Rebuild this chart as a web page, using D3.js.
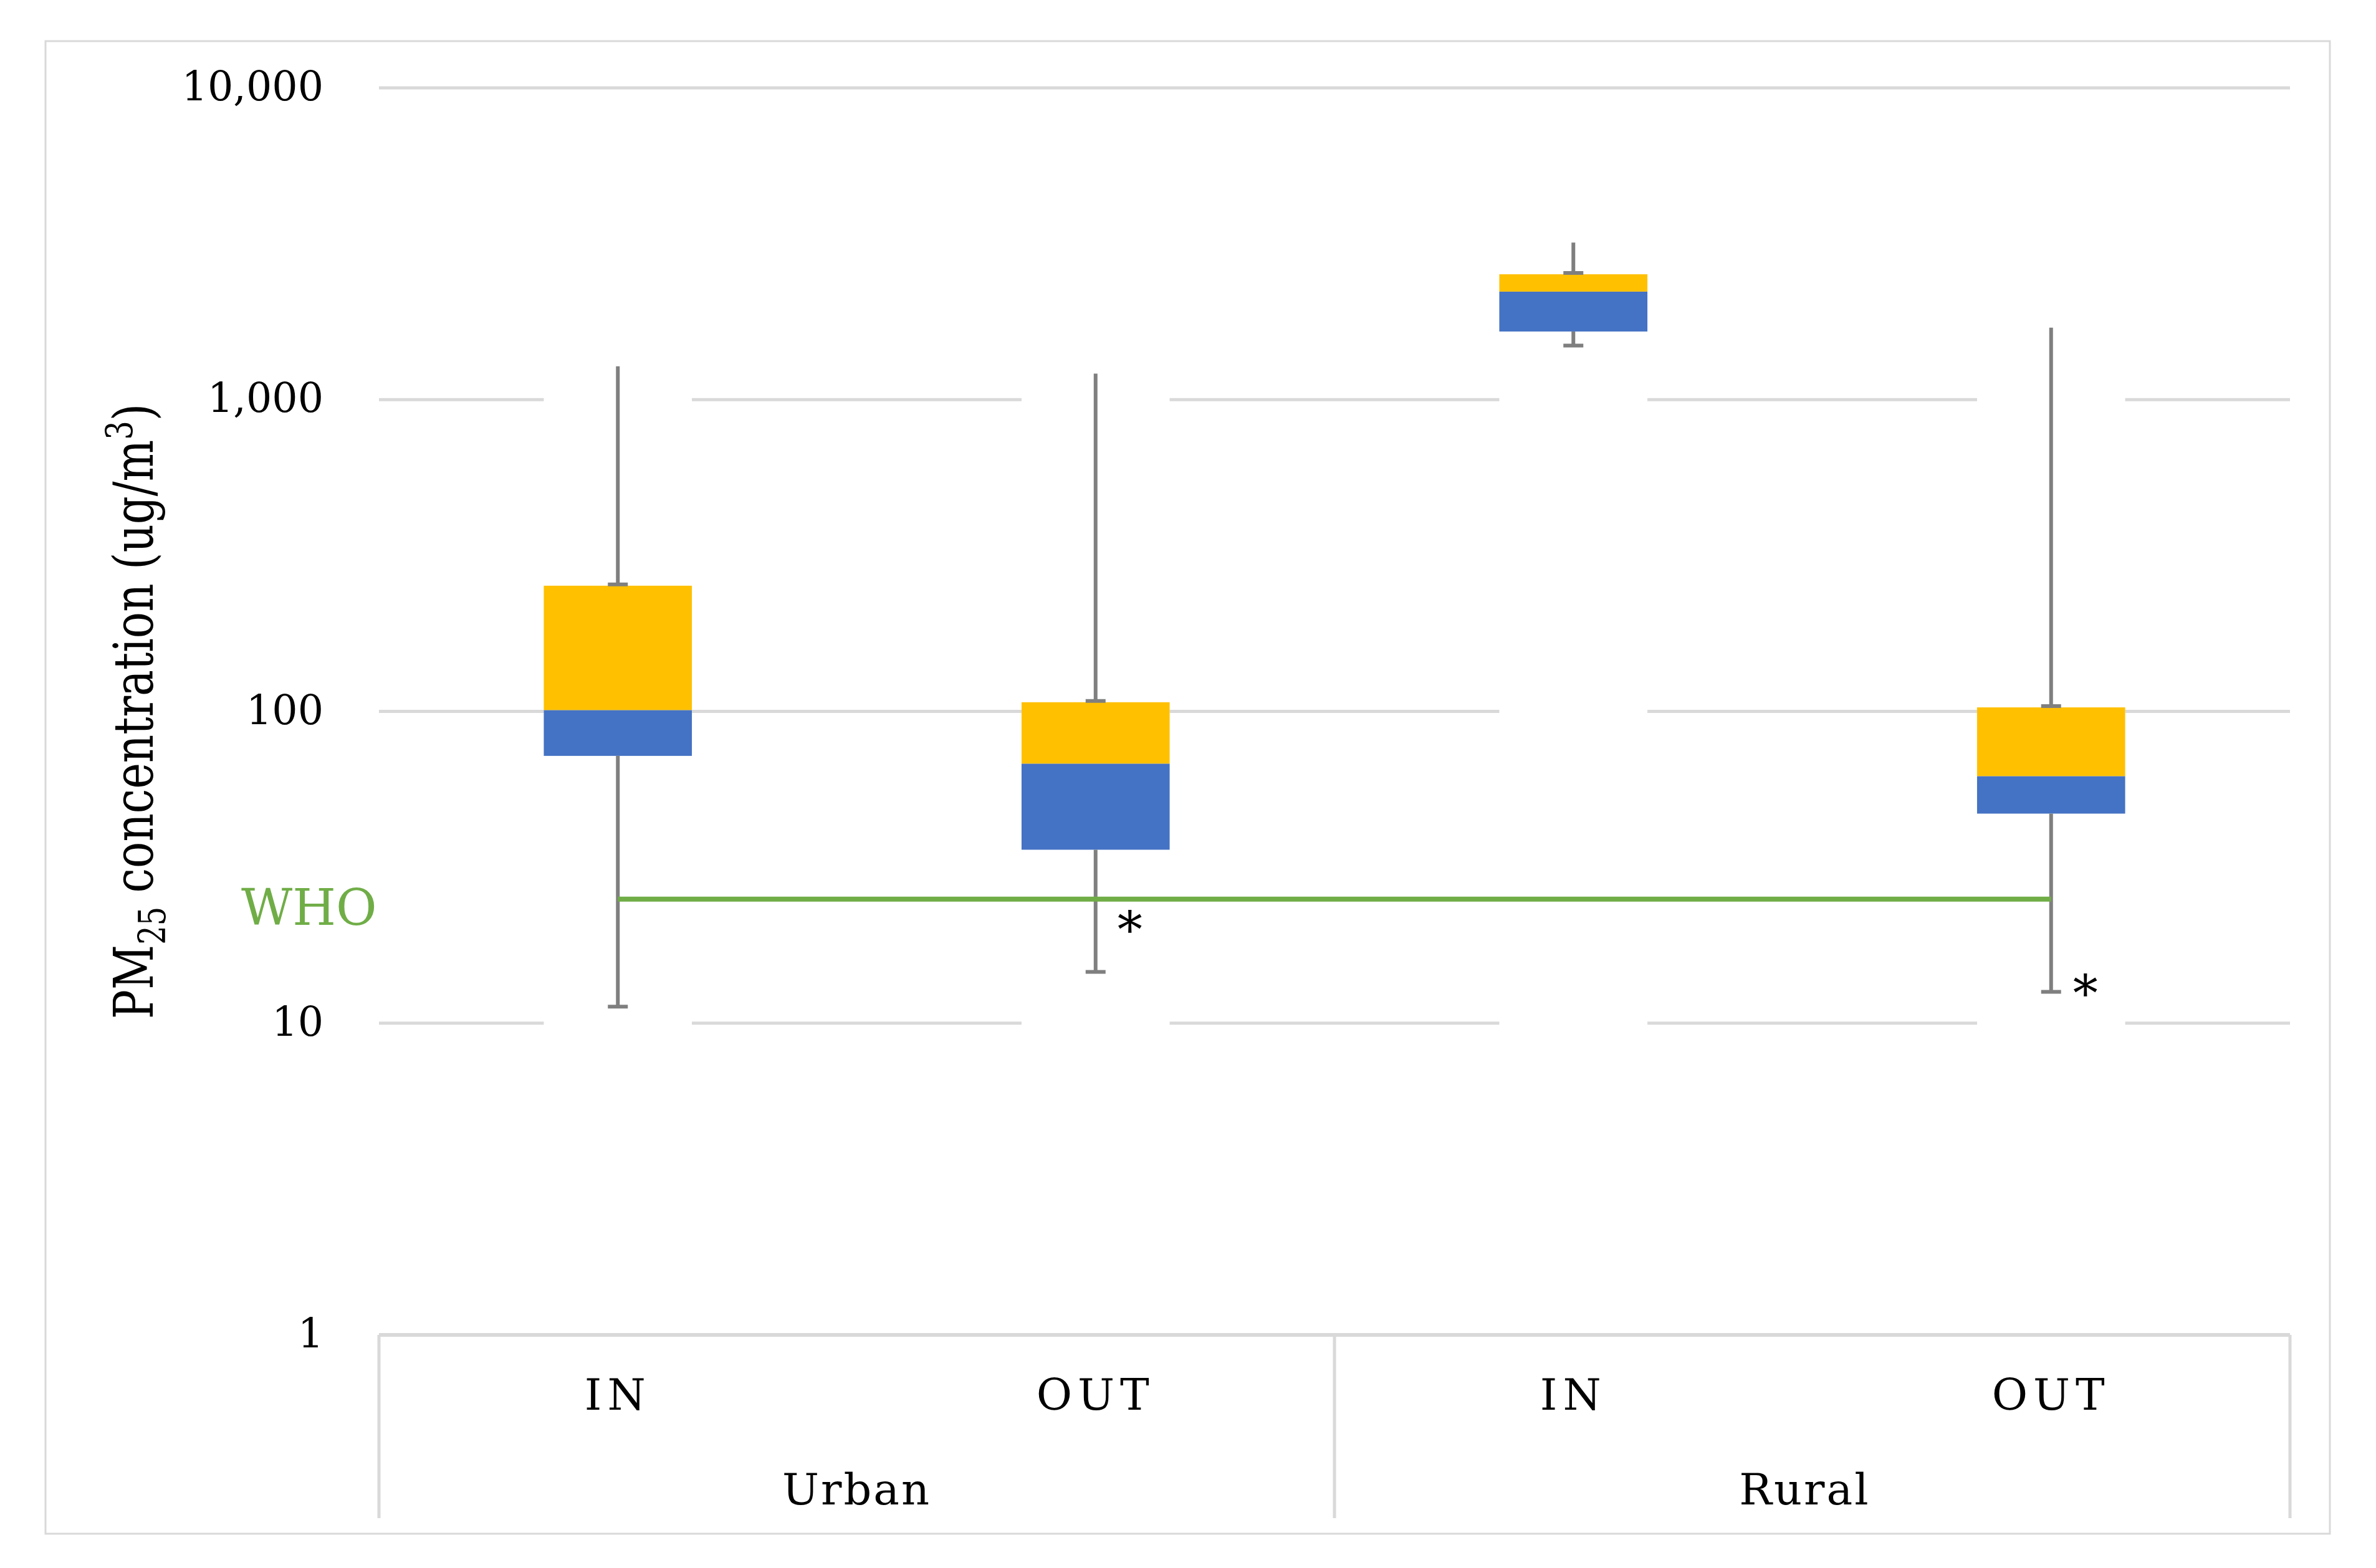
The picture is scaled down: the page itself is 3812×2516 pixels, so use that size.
<!DOCTYPE html>
<html>
<head>
<meta charset="utf-8">
<script src="https://cdn.jsdelivr.net/npm/d3@7"></script>
<style>
  html, body { margin: 0; padding: 0; background: #ffffff; }
  svg { display: block; }
</style>
</head>
<body>
<div id="chart"></div>
<script>
// ---- data ----
const categories = ["IN", "OUT", "IN", "OUT"];
const groups = ["Urban", "Rural"];
const groupOf = [0, 0, 1, 1];
const minValues = [11.3, 14.6, 1491, 12.6];
const q1Values = [72, 36, 1654, 47];
const medianValues = [101, 68, 2221, 62];
const q3Values = [253, 107, 2524, 103];
const maxValues = [1279, 1212, 3190, 1701];
const yTicks = [1, 10, 100, 1000, 10000];
const whoLimit = 25;
const whoLabel = "WHO";
const asteriskCategories = [1, 3];
const asteriskValues = [21.5, 13.5];

// ---- layout ----
const W = 3812, H = 2516;
const FONT = "'DejaVu Serif', 'Liberation Serif', serif";
const C = {
  grid: "#D9D9D9", border: "#D9D9D9", whisker: "#7F7F7F",
  q3: "#FFC000", q1: "#4472C4", who: "#70AD47", text: "#000000"
};

const svg = d3.select("#chart").append("svg")
  .attr("width", W).attr("height", H)
  .attr("viewBox", `0 0 ${W} ${H}`);

svg.append("rect").attr("width", W).attr("height", H).attr("fill", "#ffffff");

// outer chart-area border
svg.append("rect")
  .attr("x", 73).attr("y", 66).attr("width", 3665).attr("height", 2395)
  .attr("fill", "none").attr("stroke", C.border).attr("stroke-width", 3);

const plotLeft = 608, plotRight = 3674, plotTop = 141, plotBottom = 2142;

const y = d3.scaleLog().domain([1, 10000]).range([plotBottom, plotTop]);
const idx = d3.range(categories.length);
const x = d3.scaleBand().domain(idx).range([plotLeft, plotRight])
  .paddingInner(0.69).paddingOuter(0.345);
const bw = x.bandwidth();
const cx = i => x(i) + bw / 2;

// gridlines
svg.append("g").selectAll("line")
  .data(yTicks.filter(t => t > 1))
  .join("line")
  .attr("x1", plotLeft).attr("x2", plotRight)
  .attr("y1", d => y(d)).attr("y2", d => y(d))
  .attr("stroke", C.grid).attr("stroke-width", 5);

// white columns hiding gridlines (invisible base series)
svg.append("g").selectAll("rect")
  .data(idx)
  .join("rect")
  .attr("x", i => x(i)).attr("width", bw)
  .attr("y", i => y(maxValues[i]))
  .attr("height", i => y(1) - y(maxValues[i]))
  .attr("fill", "#ffffff");

// y axis labels
const yAxis = svg.append("g")
  .attr("transform", `translate(${plotLeft},0)`)
  .call(d3.axisLeft(y).tickValues(yTicks).tickFormat(d3.format(",")).tickSize(0).tickPadding(89));
yAxis.select(".domain").remove();
yAxis.selectAll("text")
  .attr("font-family", FONT).attr("font-size", 65).attr("fill", C.text)
  .attr("dy", "0.30em");

// category axis line
svg.append("line")
  .attr("x1", plotLeft).attr("x2", plotRight)
  .attr("y1", y(1)).attr("y2", y(1))
  .attr("stroke", C.grid).attr("stroke-width", 6);

// group separators
const sepBottom = 2436;
const groupBoundary = (x(1) + bw + x(2)) / 2;
svg.append("g").selectAll("line")
  .data([plotLeft, groupBoundary, plotRight])
  .join("line")
  .attr("x1", d => d).attr("x2", d => d)
  .attr("y1", y(1)).attr("y2", sepBottom)
  .attr("stroke", C.grid).attr("stroke-width", 5);

// category labels
const xAxis = svg.append("g")
  .attr("transform", `translate(0,${y(1)})`)
  .call(d3.axisBottom(x).tickFormat(i => categories[i]).tickSize(0).tickPadding(70));
xAxis.select(".domain").remove();
xAxis.selectAll("text")
  .attr("font-family", FONT).attr("font-size", 70).attr("fill", C.text)
  .attr("letter-spacing", 9);

// group labels
const groupCenters = groups.map((g, gi) => {
  const members = idx.filter(i => groupOf[i] === gi);
  return (x(members[0]) + x(members[members.length - 1]) + bw) / 2;
});
svg.append("g").selectAll("text")
  .data(groups)
  .join("text")
  .attr("x", (d, gi) => groupCenters[gi] - (gi === 1 ? 12 : 0))
  .attr("y", 2414)
  .attr("text-anchor", "middle")
  .attr("font-family", FONT).attr("font-size", 70).attr("fill", C.text)
  .attr("letter-spacing", 3)
  .text(d => d);

// boxes: lower part (Q1 -> median) blue, upper part (median -> Q3) yellow
svg.append("g").selectAll("rect")
  .data(idx)
  .join("rect")
  .attr("x", i => x(i)).attr("width", bw)
  .attr("y", i => y(medianValues[i]))
  .attr("height", i => y(q1Values[i]) - y(medianValues[i]))
  .attr("fill", C.q1);
svg.append("g").selectAll("rect")
  .data(idx)
  .join("rect")
  .attr("x", i => x(i)).attr("width", bw)
  .attr("y", i => y(q3Values[i]))
  .attr("height", i => y(medianValues[i]) - y(q3Values[i]))
  .attr("fill", C.q3);

// whiskers
const wg = svg.append("g").attr("stroke", C.whisker).attr("stroke-width", 6);
wg.selectAll("line.up").data(idx).join("line").attr("class", "up")
  .attr("x1", cx).attr("x2", cx)
  .attr("y1", i => y(q3Values[i])).attr("y2", i => y(maxValues[i]));
wg.selectAll("line.down").data(idx).join("line").attr("class", "down")
  .attr("x1", cx).attr("x2", cx)
  .attr("y1", i => y(q1Values[i])).attr("y2", i => y(minValues[i]));
const capHalf = 16;
wg.selectAll("line.capTop").data(idx).join("line").attr("class", "capTop")
  .attr("x1", i => cx(i) - capHalf).attr("x2", i => cx(i) + capHalf)
  .attr("y1", i => y(q3Values[i]) - 2).attr("y2", i => y(q3Values[i]) - 2);
wg.selectAll("line.capBottom").data(idx).join("line").attr("class", "capBottom")
  .attr("x1", i => cx(i) - capHalf).attr("x2", i => cx(i) + capHalf)
  .attr("y1", i => y(minValues[i])).attr("y2", i => y(minValues[i]));

// WHO guideline
svg.append("line")
  .attr("x1", cx(0)).attr("x2", cx(categories.length - 1))
  .attr("y1", y(whoLimit)).attr("y2", y(whoLimit))
  .attr("stroke", C.who).attr("stroke-width", 8);
svg.append("text")
  .attr("x", 387).attr("y", y(whoLimit) + 41)
  .attr("font-family", FONT).attr("font-size", 80).attr("fill", C.who)
  .attr("font-weight", 300)
  .text(whoLabel);

// asterisks
svg.append("g").selectAll("text")
  .data(asteriskCategories)
  .join("text")
  .attr("x", i => cx(i) + 55)
  .attr("y", (i, k) => y(asteriskValues[k]) + 45)
  .attr("text-anchor", "middle")
  .attr("font-family", FONT).attr("font-size", 80).attr("fill", C.text)
  .text("*");

// y-axis title
const title = svg.append("text")
  .attr("transform", `translate(245,${(plotTop + plotBottom) / 2}) rotate(-90) scale(0.8,1)`)
  .attr("text-anchor", "middle")
  .attr("font-family", FONT).attr("font-size", 88).attr("fill", C.text);
title.append("tspan").text("PM");
title.append("tspan").attr("font-size", 60).attr("dy", 20).text("25");
title.append("tspan").attr("dy", -20).text(" concentration (ug/m");
title.append("tspan").attr("font-size", 60).attr("dy", -32).text("3");
title.append("tspan").attr("dy", 32).text(")");
</script>
</body>
</html>
